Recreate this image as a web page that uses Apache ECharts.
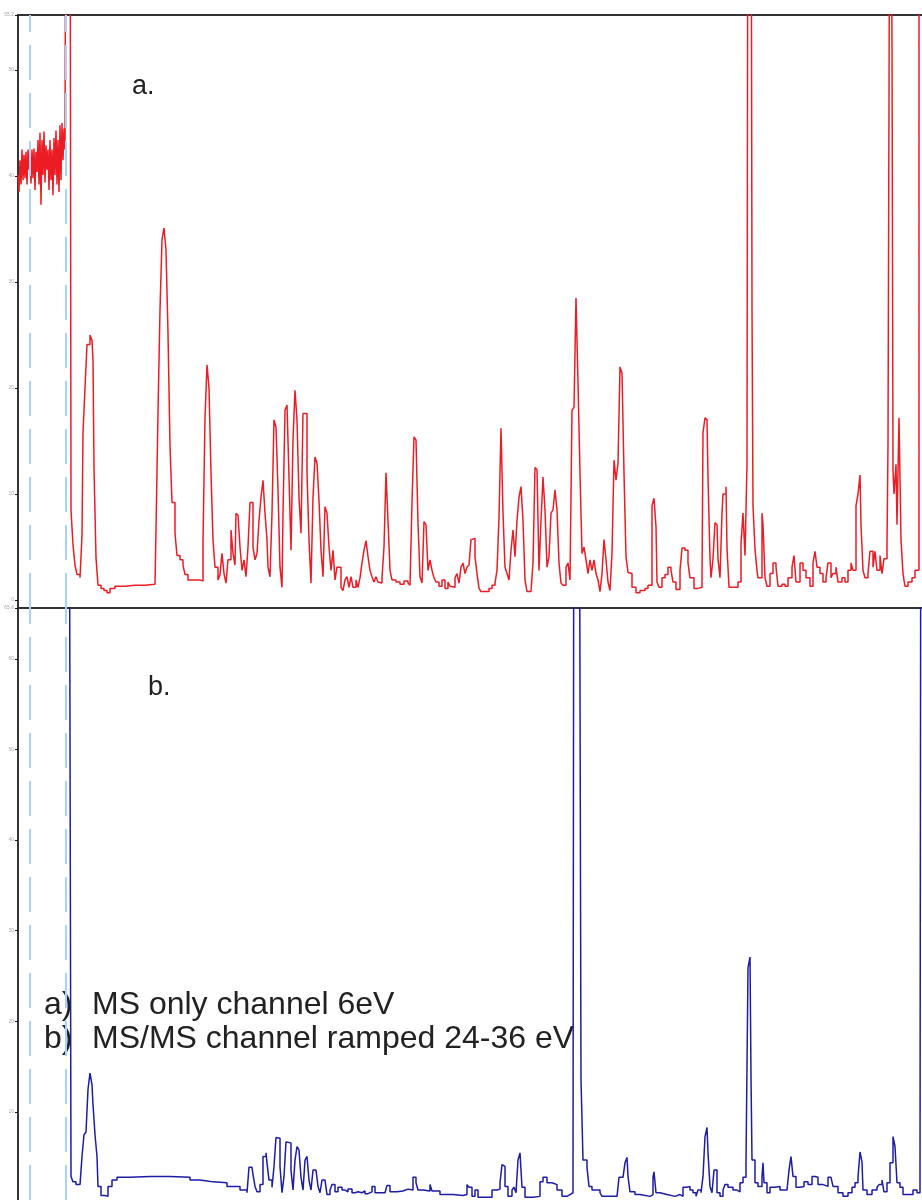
<!DOCTYPE html>
<html>
<head>
<meta charset="utf-8">
<script src="https://cdn.jsdelivr.net/npm/echarts@6/dist/echarts.min.js"></script>
<style>
html,body{margin:0;padding:0;background:#fff;}
#chart{width:922px;height:1200px;}
</style>
</head>
<body>
<div id="chart"></div>
<script>
// x = scan number, y = intensity (arbitrary units); values > axis max are off-scale peaks
const redTrace = [
[0,40.1],[1,38.5],[2,41.5],[3,39.2],[4,42.5],[5,39.6],[6,42.0],[7,39.8],[8,42.3],[9,39.2],[10,42.5],[11,40.6],[12,42.0],[13,39.3],[14,42.5],[15,39.8],[16,42.6],[17,38.7],[18,42.3],[19,40.4],[20,43.4],[21,39.2],[22,44.1],[23,37.3],[24,43.4],[25,40.1],[26,44.2],[27,39.4],[28,42.9],[29,40.6],[30,42.5],[31,38.7],[32,43.4],[33,39.6],[34,42.5],[35,38.2],[36,43.6],[37,40.1],[38,44.3],[39,39.2],[40,43.4],[41,38.5],[42,44.8],[43,39.6],[44,45.0],[45,41.5],[46,44.5],[47,42.5],
[48,80],[52,80],[53,8.5],[55,5.2],[57,3.3],[59,2.4],[62,2.1],[64,6.1],[65,15.8],[67,20.0],[69,24.1],[72,25.0],[74,24.5],[75,22.6],[76,12.5],[78,4.0],[80,1.4],[83,1.1],[86,0.9],[89,0.7],[92,1.1],[97,1.3],[107,1.4],[117,1.4],[127,1.5],[137,1.5],
[138,6.6],[140,17.7],[142,27.4],[144,34.0],[146,35.1],[148,33.0],[150,25.2],[152,14.6],[154,9.2],[157,6.3],[159,4.2],[162,3.8],[165,3.3],[167,2.4],[170,1.9],[177,1.9],[182,1.8],
[185,5.5],[187,17.2],[189,22.2],[191,20.0],[193,12.0],[195,5.7],[197,3.1],[200,1.9],[202,2.4],[204,4.4],[206,2.5],[208,1.6],[210,3.8],[213,6.6],[215,4.4],[217,3.3],[218,8.2],[220,8.0],[222,5.0],[224,2.8],[226,3.8],[228,2.2],[230,5.0],[232,9.2],[235,5.0],[237,3.8],[239,4.4],[241,7.5],[243,9.7],[245,11.3],[247,8.2],[249,5.7],[250,3.1],[252,2.2],[254,8.2],[256,17.0],[258,16.3],[260,10.4],[262,3.1],[264,1.2],[265,8.2],[267,17.9],[269,18.4],[271,11.6],[273,4.7],[275,15.1],[277,19.8],[279,17.0],[281,9.7],[283,6.3],[285,17.6],[287,17.6],[289,12.0],[291,5.7],[293,1.6],[295,9.7],[297,13.5],[299,12.9],[301,9.4],[303,4.7],[305,2.2],[307,8.8],[309,8.2],[311,5.0],[313,2.8],[315,4.7],[317,1.9],[319,3.1],[321,3.1],[323,1.2],[325,0.9],[327,1.9],[329,2.2],[331,1.2],[333,2.2],[335,1.2],[338,1.9],[340,1.2],[342,2.1],[344,3.5],[346,4.7],[348,5.6],[350,4.1],[352,2.8],[354,2.2],[356,1.7],[358,2.2],[360,1.7],[362,1.6],[364,2.1],[366,5.0],[368,12.0],[370,7.5],[372,2.8],[374,1.9],[378,1.7],[382,1.5],[386,1.8],[390,1.6],[392,1.4],[394,9.2],[396,15.4],[398,15.1],[400,7.3],[402,2.2],[404,1.6],[406,7.4],[408,7.1],[410,2.8],[412,3.8],[414,2.8],[416,2.1],[418,1.7],[421,1.3],[424,1.9],[427,1.1],[430,1.7],[432,1.3],[434,1.2],[437,2.1],[439,2.5],[441,1.6],[443,3.1],[445,3.5],[447,2.5],[449,3.1],[451,3.3],[453,5.7],[455,5.8],[457,4.1],[459,2.5],[461,1.1],[463,0.8],[467,0.8],[471,1.1],[474,1.4],[477,1.6],[479,2.8],[481,7.8],[483,16.2],[485,8.2],[487,3.1],[489,2.5],[491,1.9],[493,4.7],[495,6.6],[497,4.1],[499,7.5],[501,9.7],[503,10.7],[505,7.5],[507,1.9],[509,0.8],[513,0.8],[515,3.5],[517,12.5],[519,12.3],[521,2.8],[523,7.5],[525,11.6],[527,8.5],[529,3.1],[531,4.1],[533,8.2],[535,8.5],[537,10.4],[539,8.5],[541,3.5],[543,1.6],[545,1.4],[548,3.1],[550,3.5],[552,1.9],[554,17.9],[556,18.2],[558,28.5],[560,20.5],[562,12.0],[564,4.4],[566,5.0],[568,3.8],[570,2.5],[572,3.8],[574,2.8],[576,3.8],[578,2.5],[580,1.9],[582,0.8],[584,2.5],[586,5.7],[588,3.8],[590,1.7],[592,0.9],[594,4.4],[596,13.2],[598,11.3],[600,12.9],[602,22.0],[604,21.4],[606,12.0],[608,4.1],[610,2.6],[612,2.5],[614,1.2],[618,0.7],[622,0.9],[627,1.1],[630,1.4],[634,8.9],[636,9.6],[638,6.9],[639,1.7],[641,1.2],[644,2.1],[647,2.4],[650,3.1],[653,2.8],[655,1.7],[658,1.0],[662,2.8],[664,4.9],[667,4.7],[670,3.5],[672,2.1],[676,1.1],[680,1.2],[684,1.7],[685,15.8],[687,17.2],[689,17.0],[690,11.6],[692,3.9],[693,2.1],[695,3.9],[697,7.3],[699,7.1],[700,3.9],[702,2.1],[704,8.2],[705,10.0],[708,10.7],[709,4.9],[711,1.2],[715,1.2],[720,1.7],[723,5.3],[725,8.2],[727,4.2],[729,12.8],[730,80],[733,80],[734,27.5],[735,8.9],[737,4.8],[739,2.8],[740,2.1],[744,8.2],[745,7.1],[747,2.1],[749,1.3],[752,2.5],[755,3.5],[758,3.1],[760,1.3],[764,1.5],[767,1.3],[770,2.1],[774,3.1],[776,4.2],[778,1.7],[782,3.5],[785,2.8],[788,2.1],[792,1.3],[795,3.5],[797,4.6],[799,3.1],[802,2.5],[805,1.7],[808,2.1],[810,3.5],[813,2.1],[815,2.5],[818,3.1],[820,1.7],[824,2.1],[827,1.7],[830,2.8],[833,3.5],[835,2.8],[838,8.9],[840,10.0],[842,11.8],[843,7.1],[845,2.8],[847,2.1],[850,2.5],[852,4.6],[855,3.1],[857,4.6],[859,2.8],[862,4.2],[864,2.5],[866,3.9],[869,5.3],[870,14.6],[872,80],[874,52.8],[875,12.2],[876,10.0],[878,12.8],[879,7.1],[881,17.2],[883,5.7],[885,2.5],[887,1.3],[890,1.7],[894,2.1],[897,2.8],[899,2.8],[901,80],[904,80]
];
const blueTrace = [
[51,100],[53,2.9],[55,2.3],[58,2.0],[62,2.1],[64,5.1],[66,7.5],[68,7.8],[70,12.5],[72,14.3],[74,13.0],[75,10.8],[77,7.5],[79,5.1],[80,1.8],[83,0.8],[87,0.7],[90,1.8],[94,2.5],[99,2.8],[112,2.9],[132,2.9],[152,2.8],[172,2.5],[182,2.4],[189,2.3],[195,2.2],[209,1.8],[222,1.4],[229,1.1],[231,3.9],[234,4.0],[235,3.1],[237,1.8],[239,1.2],[242,2.0],[245,5.1],[248,5.5],[249,4.4],[251,2.5],[254,1.7],[256,4.0],[258,7.2],[260,7.1],[262,4.0],[264,1.1],[266,2.9],[268,6.7],[270,6.6],[273,3.6],[275,1.4],[277,4.7],[279,6.2],[281,5.8],[283,2.8],[285,1.4],[287,4.7],[289,5.1],[291,2.5],[293,1.4],[295,3.6],[298,3.4],[300,1.8],[302,1.1],[304,2.5],[307,2.3],[309,0.9],[312,1.4],[314,2.0],[317,1.2],[320,1.7],[324,1.4],[327,1.2],[330,1.5],[334,1.1],[337,1.2],[340,1.1],[344,1.3],[347,1.0],[350,1.2],[354,1.8],[357,1.1],[362,1.1],[367,1.2],[369,1.9],[372,1.2],[379,1.3],[385,1.5],[390,1.4],[395,2.8],[398,2.2],[400,1.4],[405,1.3],[412,2.0],[414,1.3],[422,0.9],[435,0.8],[445,0.9],[449,2.0],[451,1.7],[454,0.7],[457,1.4],[460,0.6],[469,0.6],[474,1.4],[479,1.5],[482,2.2],[484,4.2],[485,4.0],[487,1.8],[490,0.7],[494,1.4],[496,1.7],[498,1.1],[500,4.7],[502,5.5],[504,1.7],[507,0.6],[515,0.7],[522,2.3],[525,2.8],[529,2.2],[534,2.0],[539,1.4],[544,0.7],[549,0.9],[552,1.1],[555,1.7],[556,100],[561,100],[563,13.6],[565,4.7],[569,3.9],[571,1.8],[574,1.4],[582,1.1],[584,0.7],[599,0.7],[601,2.8],[605,2.9],[607,4.4],[609,5.0],[610,2.9],[612,1.2],[617,0.9],[622,0.7],[632,0.9],[635,2.8],[636,3.4],[638,1.1],[642,0.9],[649,0.7],[657,0.9],[662,0.7],[665,1.7],[669,1.8],[672,1.4],[675,1.1],[678,0.7],[680,1.4],[683,1.1],[685,2.9],[687,7.3],[689,8.3],[690,5.5],[692,1.8],[694,1.1],[696,3.6],[698,3.6],[699,1.1],[702,0.7],[705,1.4],[707,2.0],[710,1.7],[715,1.4],[719,1.2],[722,2.2],[725,2.8],[728,4.4],[730,25.9],[732,27.1],[733,13.9],[734,4.7],[737,2.2],[740,1.8],[744,2.9],[745,4.4],[746,2.2],[749,1.1],[752,1.7],[757,1.8],[762,1.4],[769,1.2],[771,3.6],[773,5.1],[775,2.9],[778,1.7],[782,1.8],[786,2.3],[790,2.0],[794,2.9],[797,2.8],[800,2.0],[805,1.8],[810,2.8],[813,2.9],[815,1.8],[820,1.1],[825,0.7],[830,1.1],[834,1.7],[837,2.2],[840,2.8],[842,5.6],[844,4.5],[845,1.4],[849,0.9],[854,1.4],[859,1.7],[861,2.0],[864,2.5],[866,1.2],[869,2.2],[872,4.4],[875,7.3],[877,6.2],[879,2.2],[882,1.7],[885,0.9],[892,0.9],[895,1.4],[899,1.1],[902,3.6],[903,100],[904,100]
];
const scanRange = [0, 904];
const topRange = [-0.75, 55.2];
const bottomRange = [0.3, 65.6];
const topTicks = [0, 10, 20, 30, 40, 50, 55.2];
const bottomTicks = [10, 20, 30, 40, 50, 60, 65.6];
const markerScans = [12, 48];
const panelLabels = ['a.', 'b.'];
const legendKeys = ['a)', 'b)'];
const legendTexts = ['MS only channel 6eV', 'MS/MS channel ramped 24-36 eV'];

const chart = echarts.init(document.getElementById('chart'), null, {renderer: 'canvas'});

function yAxisCfg(gridIndex, range, ticks) {
  return {
    type: 'value', gridIndex: gridIndex, min: range[0], max: range[1],
    splitLine: {show: false},
    axisLine: {show: true, onZero: false, lineStyle: {color: '#333', width: 2}},
    axisTick: {show: true, length: 3, customValues: ticks, lineStyle: {color: '#111', width: 1}},
    axisLabel: {show: true, customValues: ticks, fontSize: 5, color: '#a8a8a8', margin: 4,
      formatter: v => String(Math.round(v * 10) / 10)}
  };
}
function xAxisCfg(gridIndex) {
  return {
    type: 'value', gridIndex: gridIndex, min: scanRange[0], max: scanRange[1], position: 'top',
    splitLine: {show: false},
    axisLine: {show: true, onZero: false, lineStyle: {color: '#333', width: 2}},
    axisTick: {show: false}, axisLabel: {show: false}
  };
}
const markers = {
  symbol: 'none', silent: true, animation: false,
  label: {show: false},
  lineStyle: {type: [35, 13], color: '#a9d2fa', width: 2},
  data: markerScans.map(s => ({xAxis: s}))
};
const FONT = 'Liberation Sans, Arial, sans-serif';

const option = {
  animation: false,
  backgroundColor: '#fff',
  grid: [
    {left: 18, right: 0, top: 15, bottom: 592},
    {left: 18, right: 0, top: 608, bottom: 0}
  ],
  xAxis: [xAxisCfg(0), xAxisCfg(1)],
  yAxis: [yAxisCfg(0, topRange, topTicks), yAxisCfg(1, bottomRange, bottomTicks)],
  series: [
    {type: 'line', xAxisIndex: 0, yAxisIndex: 0, data: redTrace, step: 'end', showSymbol: false,
     clip: true, lineStyle: {color: '#ec1c24', width: 1.5}, markLine: markers, z: 3},
    {type: 'line', xAxisIndex: 1, yAxisIndex: 1, data: blueTrace, step: 'end', showSymbol: false,
     clip: true, lineStyle: {color: '#1c1ca6', width: 1.5}, markLine: markers, z: 3}
  ],
  graphic: [
    {type: 'text', x: 132, y: 87, z: 10, style: {text: panelLabels[0], fontSize: 27, fontFamily: FONT, fill: '#222', verticalAlign: 'middle'}},
    {type: 'text', x: 148, y: 688, z: 10, style: {text: panelLabels[1], fontSize: 27, fontFamily: FONT, fill: '#222', verticalAlign: 'middle'}},
    {type: 'text', x: 44, y: 1005, z: 1, style: {text: legendKeys[0], fontSize: 32, fontFamily: FONT, fill: '#222', verticalAlign: 'middle'}},
    {type: 'text', x: 92, y: 1005, z: 1, style: {text: legendTexts[0], fontSize: 32, fontFamily: FONT, fill: '#222', verticalAlign: 'middle'}},
    {type: 'text', x: 44, y: 1039, z: 1, style: {text: legendKeys[1], fontSize: 32, fontFamily: FONT, fill: '#222', verticalAlign: 'middle'}},
    {type: 'text', x: 92, y: 1039, z: 1, style: {text: legendTexts[1], fontSize: 32, fontFamily: FONT, fill: '#222', verticalAlign: 'middle'}}
  ]
};
chart.setOption(option);
</script>
</body>
</html>
